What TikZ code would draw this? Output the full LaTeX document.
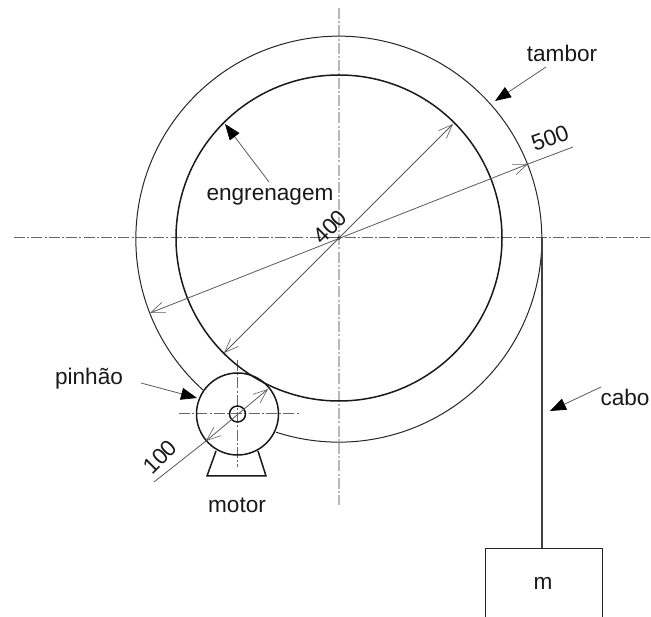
\documentclass[tikz,border=0pt]{standalone}
\usepackage{fontspec}
\setmainfont{Liberation Sans}
\usetikzlibrary{arrows.meta}
\tikzset{
 x=1pt,y=-1pt,
 thick line/.style={line width=1.5pt,black!90},
 thin line/.style={line width=1pt,black!85},
 center line/.style={line width=1pt,black!60,dash pattern=on 11pt off 2.2pt on 2pt off 2.2pt},
 light center/.style={line width=1.2pt,black!28,dash pattern=on 11pt off 2.2pt on 2pt off 2.2pt},
 dim line/.style={line width=0.8pt,black!65},
 dim tips/.style={dim line,{Straight Barb[length=14pt,width=11pt,line width=0.6pt]}-{Straight Barb[length=14pt,width=11pt,line width=0.6pt]}},
 leader/.style={line width=0.8pt,black!65,-{Triangle[length=16pt,width=12pt,black]}},
 label/.style={font=\fontsize{22.6}{25}\selectfont,text=black!90,inner sep=0pt},
}
\begin{document}
\begin{tikzpicture}
\useasboundingbox (0,0) rectangle (651,617);
\coordinate (c) at (339,238);
\coordinate (p) at (237.5,414);
% centre lines
\draw[center line] (14,238) -- (650,238);
\draw[light center] (339,8) -- (339,505);
\draw[center line] (179,414) -- (300,414);
\draw[center line] (237.5,360) -- (237.5,467);
% drum
\draw[thin line] (203,390) arc[start angle=132,end angle=468,radius=203];
\draw[thick line] (c) circle[radius=163];
% pinion and motor
\draw[thick line] (p) circle[radius=41];
\draw[thick line] (p) circle[radius=8];
\coordinate (ml) at (216,451);
\coordinate (mr) at (258,451);
\draw[thick line] (ml) -- (207,476) -- (266,476) -- (mr);
% hub dot
\fill[black] (c) circle[radius=1.8];
% cable and mass
\draw[line width=1.3pt,black!75] (542,238) -- (542,548);
\draw[thin line] (485,617) -- (485,548) -- (602,548) -- (602,617);
% dimensions
\draw[dim tips] (150,313) -- (528,164);
\draw[dim line] (528,164) -- (573,147);
\draw[dim tips] (224,353) -- (453,124);
\draw[dim tips] (206,441) -- (268,389);
\draw[dim line] (206,441) -- (154,482);
% leaders
\coordinate (lt) at (546,67);
\coordinate (le) at (269,182);
\coordinate (lp) at (141,383);
\coordinate (lc) at (601,387);
\draw[leader] (lt) -- (495,101);
\draw[leader] (le) -- (225,124);
\draw[leader] (lp) -- (197,398);
\draw[leader] (lc) -- (550,411);
% labels
\node[label] (tambor) at (562,53) {tambor};
\node[label] (engrenagem) at (270,197) {engrenagem};
\node[label] (pinhao) at (89,379) {pinhão};
\node[label] (cabo) at (625,397) {cabo};
\node[label] (motor) at (237,505) {motor};
\node[label] (m) at (543,583) {m};
\node[label,rotate=20] (d500) at (550,138) {500};
\node[label,rotate=45] (d400) at (330,227) {400};
\node[label,rotate=45] (d100) at (160,457) {100};
\end{tikzpicture}
\end{document}
